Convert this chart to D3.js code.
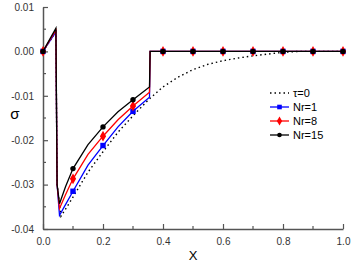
<!DOCTYPE html>
<html>
<head>
<meta charset="utf-8">
<script src="https://cdn.jsdelivr.net/npm/d3@7"></script>
<style>
  body { margin: 0; background: #fff; }
  text { font-family: Arial, "Liberation Sans", sans-serif; }
</style>
</head>
<body>
<div id="chart"></div>
<script>
// x positions shared by the curves
const xTau = [0, 0.043, 0.047, 0.06, 0.08, 0.1, 0.15, 0.2, 0.25, 0.3, 0.35, 0.4, 0.45, 0.5, 0.55, 0.6, 0.65, 0.7, 0.75, 0.8, 0.85, 0.9, 1.0];
const yTau = [0, 0.0044, -0.030, -0.0371, -0.0350, -0.0328, -0.0272, -0.0226, -0.0182, -0.0145, -0.0110, -0.0080, -0.0058, -0.0041, -0.0029, -0.0021, -0.0015, -0.0010, -0.0006, -0.0002, 0, 0, 0];

const xNr = [0, 0.043, 0.047, 0.055, 0.075, 0.1, 0.15, 0.2, 0.25, 0.3, 0.355, 0.357, 0.4, 0.5, 0.6, 0.7, 0.8, 0.9, 1.0];
const yNr1 = [0, 0.0044, -0.030, -0.0369, -0.0345, -0.0315, -0.0256, -0.0212, -0.0170, -0.0135, -0.0103, 0, 0, 0, 0, 0, 0, 0, 0];
const yNr8 = [0, 0.0048, -0.030, -0.0354, -0.0323, -0.0287, -0.0232, -0.0191, -0.0154, -0.0123, -0.0092, 0, 0, 0, 0, 0, 0, 0, 0];
const yNr15 = [0, 0.0052, -0.030, -0.0343, -0.0305, -0.0264, -0.0210, -0.0170, -0.0136, -0.0109, -0.0080, 0, 0, 0, 0, 0, 0, 0, 0];

// symbols are drawn at these x values
const markX = [0, 0.1, 0.2, 0.3, 0.4, 0.5, 0.6, 0.7, 0.8, 0.9, 1.0];

const xTicks = [0, 0.2, 0.4, 0.6, 0.8, 1.0];
const yTicks = [0.01, 0, -0.01, -0.02, -0.03, -0.04];

const series = [
    { name: "τ=0", ys: yTau, xs: xTau, color: "#000", dash: "1.5,3", marker: null },
    { name: "Nr=1", ys: yNr1, xs: xNr, color: "#0000ff", dash: null, marker: "square" },
    { name: "Nr=8", ys: yNr8, xs: xNr, color: "#ff0000", dash: null, marker: "diamond" },
    { name: "Nr=15", ys: yNr15, xs: xNr, color: "#000", dash: null, marker: "circle" }
];

const width = 351, height = 262;
const margin = { left: 43, right: 8, top: 7, bottom: 33 };

const svg = d3.select("#chart").append("svg")
    .attr("width", width)
    .attr("height", height);

const x = d3.scaleLinear().domain([0, 1]).range([margin.left, width - margin.right]);
const y = d3.scaleLinear().domain([-0.04, 0.01]).range([height - margin.bottom, margin.top]);

const axisColor = "#555";

// X axis
const gx = svg.append("g")
    .attr("transform", `translate(0, ${y(-0.04)})`)
    .call(d3.axisBottom(x).tickValues(xTicks).tickFormat(d3.format(".1f")).tickSizeInner(-5).tickSizeOuter(0).tickPadding(9));
gx.append("g").selectAll("line")
    .data(d3.range(0.1, 1, 0.2))
    .enter().append("line")
    .attr("x1", d => x(d)).attr("x2", d => x(d))
    .attr("y1", 0).attr("y2", -3);

// Y axis
const gy = svg.append("g")
    .attr("transform", `translate(${x(0)}, 0)`)
    .call(d3.axisLeft(y).tickValues(yTicks).tickFormat(d3.format(".2f")).tickSizeInner(-5).tickSizeOuter(0).tickPadding(9));
gy.append("g").selectAll("line")
    .data([0.005, -0.005, -0.015, -0.025, -0.035])
    .enter().append("line")
    .attr("x1", 0).attr("x2", 3)
    .attr("y1", d => y(d)).attr("y2", d => y(d));

[gx, gy].forEach(g => {
    g.select(".domain").attr("stroke", axisColor).attr("stroke-width", 1.5);
    g.selectAll("line").attr("stroke", axisColor).attr("stroke-width", 1.2);
    g.selectAll("text").attr("fill", "#333").style("font-size", "10px");
});
gy.selectAll(".tick text").text(d => d === 0 ? "0.00" : d3.format(".2f")(d).replace("−", "-"));

// Axis titles
svg.append("text")
    .attr("x", x(0.5)).attr("y", 260)
    .attr("text-anchor", "middle")
    .style("font-size", "13px")
    .text("X");
svg.append("text")
    .attr("x", 15).attr("y", 119)
    .attr("text-anchor", "middle")
    .style("font-size", "15px")
    .text("σ");

const line = d3.line();

function drawMarker(g, type, cx, cy, color, s) {
    if (type === "square") {
        g.append("rect").attr("x", cx - s).attr("y", cy - s).attr("width", 2 * s).attr("height", 2 * s).attr("fill", color);
    } else if (type === "diamond") {
        g.append("path").attr("d", d3.symbol(d3.symbolDiamond, s * s * 4.5)()).attr("transform", `translate(${cx},${cy})`).attr("fill", color);
        g.append("circle").attr("cx", cx).attr("cy", cy).attr("r", s * 0.85).attr("fill", color);
    } else if (type === "circle") {
        g.append("circle").attr("cx", cx).attr("cy", cy).attr("r", s).attr("fill", color);
    }
}

const plot = svg.append("g");

series.forEach(sr => {
    const pts = sr.xs.map((xv, i) => [x(xv), y(sr.ys[i])]);
    plot.append("path")
        .attr("d", line(pts))
        .attr("fill", "none")
        .attr("stroke", sr.color)
        .attr("stroke-width", sr.dash ? 1.4 : 1.3)
        .attr("stroke-dasharray", sr.dash);
    if (sr.marker) {
        markX.forEach(mx => {
            const i = sr.xs.indexOf(mx);
            if (i >= 0) drawMarker(plot, sr.marker, x(mx), y(sr.ys[i]), sr.color, 2.7);
        });
    }
});

// Legend
const legend = svg.append("g");
series.forEach((sr, i) => {
    const ly = 93 + i * 14;
    legend.append("line")
        .attr("x1", 270).attr("x2", 289)
        .attr("y1", ly).attr("y2", ly)
        .attr("stroke", sr.color)
        .attr("stroke-width", sr.dash ? 1.4 : 1.3)
        .attr("stroke-dasharray", sr.dash);
    if (sr.marker) drawMarker(legend, sr.marker, 279.5, ly, sr.color, 2.3);
    legend.append("text")
        .attr("x", 293).attr("y", ly + 4)
        .style("font-size", "11px")
        .text(sr.name);
});
</script>
</body>
</html>
